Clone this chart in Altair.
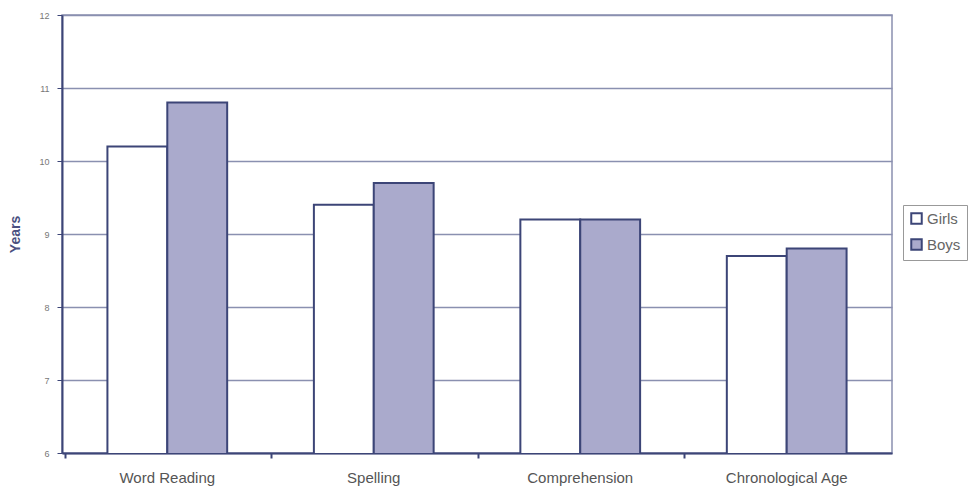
import altair as alt
import pandas as pd

categories = ["Word Reading", "Spelling", "Comprehension", "Chronological Age"]
girls = [10.2, 9.4, 9.2, 8.7]
boys = [10.8, 9.7, 9.2, 8.8]
series = ["Girls", "Boys"]

rows = []
for c, g, b in zip(categories, girls, boys):
    rows.append({"cat": c, "series": "Girls", "val": g})
    rows.append({"cat": c, "series": "Boys", "val": b})
df = pd.DataFrame(rows)

chart = alt.Chart(df).mark_bar(stroke="#3c4577", strokeWidth=2, binSpacing=0, clip=True).encode(
    x=alt.X("cat:N", sort=categories, title=None,
            scale=alt.Scale(paddingInner=0.42, paddingOuter=0.22),
            axis=alt.Axis(labelAngle=0, labelFont="Liberation Sans", labelFontSize=15,
                          labelColor="#555555", labelPadding=12, domainColor="#3c4577",
                          domainWidth=2, tickColor="#3c4577", tickWidth=2, tickSize=5,
                          bandPosition=-0.35)),
    xOffset=alt.XOffset("series:N", sort=series, scale=alt.Scale(paddingInner=0, paddingOuter=0)),
    y=alt.Y("val:Q", title="Years",
            scale=alt.Scale(domain=[6, 12], nice=False, zero=False),
            axis=alt.Axis(values=[6, 7, 8, 9, 10, 11, 12], labelFont="Liberation Sans",
                          labelFontSize=9, labelColor="#777777", labelPadding=8,
                          domainColor="#3c4577", domainWidth=2, tickColor="#3c4577",
                          tickSize=5, gridColor="#8a90b0", gridWidth=1.5,
                          titleFont="Liberation Sans", titleFontSize=14, titleFontWeight="bold",
                          titleColor="#4a5080", titlePadding=16)),
    color=alt.Color("series:N", sort=series, title=None,
                    scale=alt.Scale(domain=series, range=["#ffffff", "#aaaacc"]),
                    legend=alt.Legend(orient="none", legendX=841, legendY=190,
                                      symbolType="square", symbolSize=110,
                                      symbolStrokeColor="#3c4577", symbolStrokeWidth=2,
                                      labelFont="Liberation Sans", labelFontSize=15,
                                      labelColor="#666666", strokeColor="#999999",
                                      padding=6, rowPadding=7, labelOffset=3,
                                      fillColor="#ffffff")),
).properties(
    width=830, height=438,
    autosize=alt.AutoSizeParams(type="none"),
    padding={"left": 54, "top": 7, "right": 80, "bottom": 38},
).configure_view(stroke="#8a90b0", strokeWidth=1.5)

chart.save("out.html", embed_options={"renderer": "svg", "actions": False})
